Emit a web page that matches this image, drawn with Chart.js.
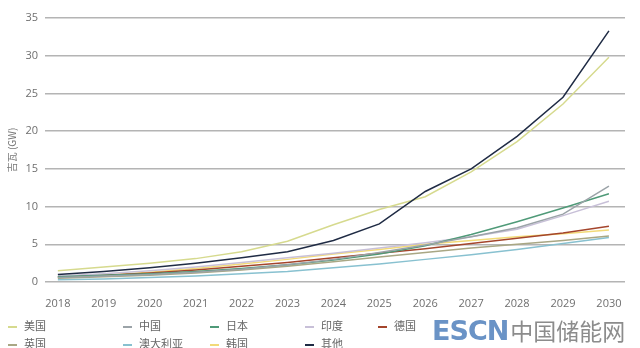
<!DOCTYPE html>
<html>
<head>
<meta charset="utf-8">
<script src="https://cdn.jsdelivr.net/npm/chart.js@4/dist/chart.umd.min.js"></script>
<style>
  html, body { margin: 0; padding: 0; background: #fff; }
  #wrap { position: relative; width: 640px; height: 348px; overflow: hidden; }
  #legend { position: absolute; left: 0; top: 0; width: 640px; height: 348px; pointer-events: none;
    font-family: "Noto Sans CJK SC", "Noto Sans", sans-serif; font-size: 11px; color: #666; }
  .item { position: absolute; height: 14px; line-height: 14px; white-space: nowrap; }
  .item i { display: inline-block; width: 9px; height: 2px; vertical-align: middle; margin-right: 7px; }
  #mark { position: absolute; left: 432px; top: 313px; white-space: nowrap; }
  #mark .en { font-family: "DejaVu Sans", sans-serif; font-weight: bold; font-size: 27px; color: #6a93c6; letter-spacing: -1px; }
  #mark .cn { font-family: "Noto Sans CJK SC", sans-serif; font-size: 23px; color: #8c8c8c; margin-left: 2px; }
</style>
</head>
<body>
<div id="wrap">
  <canvas id="chart" width="640" height="348"></canvas>
  <div id="legend"></div>
  <div id="mark"><span class="en">ESCN</span><span class="cn">中国储能网</span></div>
</div>
<script>
const years = [2018, 2019, 2020, 2021, 2022, 2023, 2024, 2025, 2026, 2027, 2028, 2029, 2030];
const yTicks = [0, 5, 10, 15, 20, 25, 30, 35];

const names = ['美国', '中国', '日本', '印度', '德国', '英国', '澳大利亚', '韩国', '其他'];
const colors = ['#d6da8e', '#9ba3a8', '#4f9a78', '#c8c0d8', '#a4452c', '#a9a784', '#88c1d0', '#f2da78', '#1f2b44'];

const usa       = [1.5, 2.0, 2.5, 3.1, 4.0, 5.4, 7.6, 9.6, 11.3, 14.6, 18.6, 23.6, 29.8];
const china     = [0.6, 0.8, 1.0, 1.3, 1.7, 2.3, 3.0, 3.9, 4.9, 6.0, 7.2, 9.0, 12.7];
const japan     = [0.7, 0.9, 1.1, 1.4, 1.8, 2.3, 2.9, 3.7, 4.8, 6.3, 8.0, 9.8, 11.7];
const india     = [0.8, 1.1, 1.5, 2.0, 2.6, 3.2, 3.8, 4.5, 5.2, 6.0, 7.0, 8.8, 10.7];
const germany   = [0.7, 0.9, 1.2, 1.6, 2.1, 2.6, 3.2, 3.8, 4.4, 5.1, 5.8, 6.5, 7.4];
const uk        = [0.5, 0.7, 0.9, 1.2, 1.6, 2.1, 2.7, 3.3, 3.9, 4.5, 5.0, 5.5, 6.1];
const australia = [0.3, 0.4, 0.6, 0.8, 1.1, 1.4, 1.9, 2.4, 3.0, 3.6, 4.3, 5.1, 5.9];
const korea     = [0.6, 0.9, 1.3, 1.8, 2.4, 3.0, 3.7, 4.3, 5.0, 5.5, 6.0, 6.4, 6.9];
const others    = [1.0, 1.4, 1.9, 2.5, 3.2, 4.0, 5.5, 7.7, 12.0, 15.0, 19.3, 24.5, 33.3];

const series = [usa, china, japan, india, germany, uk, australia, korea, others];

// legend slots: [left, top]
const legendPos = [[8, 318], [123, 318], [210, 318], [305, 318], [378, 318],
                   [8, 336], [123, 336], [210, 336], [305, 336]];

const datasets = series.map((vals, i) => ({
  label: names[i],
  data: vals.map((v, j) => ({ x: years[j], y: v })),
  borderColor: colors[i],
  backgroundColor: colors[i],
  borderWidth: 1.5,
  pointRadius: 0,
  tension: 0,
  order: i === 8 ? 0 : (i === 0 ? 1 : 2)
}));

const tickFont = { family: '"Open Sans", "Noto Sans", sans-serif', size: 11 };

new Chart(document.getElementById('chart'), {
  type: 'line',
  data: { datasets: datasets },
  options: {
    responsive: false,
    animation: false,
    layout: { padding: { top: 18, right: 15, bottom: 38, left: 6 } },
    plugins: { legend: { display: false }, tooltip: { enabled: false } },
    scales: {
      x: {
        type: 'linear',
        min: 2017.72,
        max: 2030.35,
        afterBuildTicks: s => { s.ticks = years.map(v => ({ value: v })); },
        afterFit: s => { s.height = 28; },
        grid: { display: false },
        border: { display: false },
        ticks: { color: '#6f6f6f', font: tickFont, padding: 7, maxRotation: 0,
                 callback: v => String(v) }
      },
      y: {
        min: 0,
        max: 35,
        afterBuildTicks: s => { s.ticks = yTicks.map(v => ({ value: v })); },
        afterFit: s => { s.width = 39; },
        grid: { color: '#b4b4b4', lineWidth: 1.5, drawTicks: false },
        border: { display: false },
        title: { display: true, text: '吉瓦 (GW)', color: '#777',
                 font: { family: '"Noto Sans CJK SC", sans-serif', size: 10 }, padding: 0 },
        ticks: { color: '#6f6f6f', font: tickFont, padding: 7 }
      }
    }
  }
});

const legend = document.getElementById('legend');
names.forEach((n, i) => {
  const d = document.createElement('div');
  d.className = 'item';
  d.style.left = legendPos[i][0] + 'px';
  d.style.top = legendPos[i][1] + 'px';
  d.innerHTML = '<i style="background:' + colors[i] + '"></i>' + n;
  legend.appendChild(d);
});
</script>
</body>
</html>
